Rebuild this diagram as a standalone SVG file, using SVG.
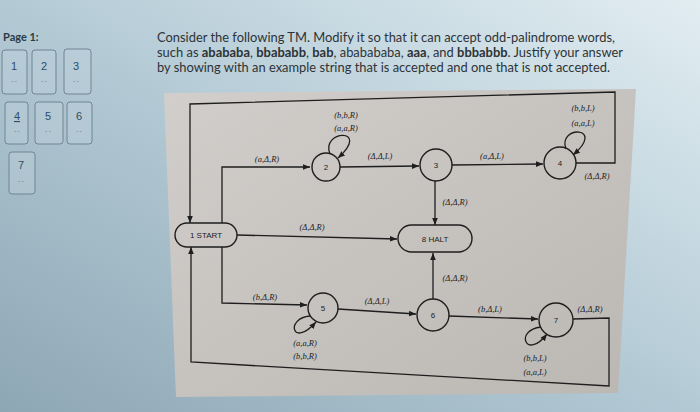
<svg xmlns="http://www.w3.org/2000/svg" width="700" height="412" viewBox="0 0 700 412">
<defs>
<linearGradient id="bg" x1="0" y1="1" x2="1" y2="0">
<stop offset="0" stop-color="#8ea7b4"/>
<stop offset="0.5" stop-color="#b3cad5"/>
<stop offset="1" stop-color="#e2edf2"/>
</linearGradient>
<linearGradient id="paper" x1="0" y1="0" x2="1" y2="1">
<stop offset="0" stop-color="#d1cecb"/>
<stop offset="1" stop-color="#bbb7b3"/>
</linearGradient>
<marker id="arr" viewBox="0 0 10 10" refX="10" refY="5" markerWidth="7" markerHeight="7" orient="auto" markerUnits="userSpaceOnUse">
<path d="M0,1 L10,5 L0,9 z" fill="#1e1e1e"/>
</marker>
<style>
.thumb{fill:#c4d5de;fill-opacity:0.35;stroke:#6e8593;stroke-width:1}
.tnum{font-family:"Liberation Sans",sans-serif;font-size:11px;fill:#2f4d68;text-anchor:middle}
.tdash{font-family:"Liberation Sans",sans-serif;font-size:6px;fill:#4d6070;text-anchor:middle}
.para{font-family:Lato,"Open Sans",sans-serif;font-size:13px;fill:#2e3336}
.edge{fill:none;stroke:#1e1e1e;stroke-width:1.3}
.node{fill:none;stroke:#1e1e1e;stroke-width:1.4}
.nlab{font-family:"Liberation Sans",sans-serif;font-size:8px;fill:#222;text-anchor:middle}
.elab{font-family:"Liberation Serif",serif;font-style:italic;font-size:8.5px;fill:#222;text-anchor:middle}
</style>
</defs>
<rect x="0" y="0" width="700" height="412" fill="url(#bg)"/>
<polygon points="164,93 636,89 618,393 176,397" fill="url(#paper)"/>

<g id="sidebar">
<text x="3" y="41" font-family="Lato,'Open Sans',sans-serif" font-size="11" font-weight="bold" fill="#2b3a44">Page 1:</text>
<rect class="thumb" x="2" y="50" width="25" height="44" rx="3"/>
<rect class="thumb" x="32" y="50" width="24" height="44" rx="3"/>
<rect class="thumb" x="64" y="49" width="27" height="45" rx="3"/>
<rect class="thumb" x="5" y="102" width="23" height="42" rx="3"/>
<rect class="thumb" x="35" y="102" width="28" height="42" rx="3"/>
<rect class="thumb" x="67" y="102" width="25" height="42" rx="3"/>
<rect class="thumb" x="9" y="152" width="26" height="42" rx="3"/>
<text class="tnum" x="14" y="70">1</text>
<text class="tnum" x="44" y="70">2</text>
<text class="tnum" x="76" y="70">3</text>
<text class="tnum" x="17" y="120" text-decoration="underline">4</text>
<text class="tnum" x="48" y="120">5</text>
<text class="tnum" x="79" y="120">6</text>
<text class="tnum" x="21" y="169">7</text>
<text class="tdash" x="14" y="83">- -</text>
<text class="tdash" x="44" y="83">- -</text>
<text class="tdash" x="76" y="83">- -</text>
<text class="tdash" x="17" y="133">- -</text>
<text class="tdash" x="48" y="133">- -</text>
<text class="tdash" x="79" y="133">- -</text>
<text class="tdash" x="21" y="183">- -</text>
</g>

<g id="question">
<text class="para" x="157" y="42" textLength="458" lengthAdjust="spacingAndGlyphs">Consider the following TM. Modify it so that it can accept odd-palindrome words,</text>
<text class="para" x="157" y="57" textLength="466" lengthAdjust="spacingAndGlyphs">such as <tspan font-weight="bold">abababa</tspan>, <tspan font-weight="bold">bbababb</tspan>, <tspan font-weight="bold">bab</tspan>, ababababa, <tspan font-weight="bold">aaa</tspan>, and <tspan font-weight="bold">bbbabbb</tspan>. Justify your answer</text>
<text class="para" x="157" y="72" textLength="453" lengthAdjust="spacingAndGlyphs">by showing with an example string that is accepted and one that is not accepted.</text>
</g>

<g id="connectors">
<path class="edge" d="M222 223 L222 167 L310 167" marker-end="url(#arr)"/>
<path class="edge" d="M222 247 L222 303 L307 305" marker-end="url(#arr)"/>
<path class="edge" d="M237 235 L397 239" marker-end="url(#arr)"/>
<path class="edge" d="M340 167 L419 166" marker-end="url(#arr)"/>
<path class="edge" d="M452 165 L543 164" marker-end="url(#arr)"/>
<path class="edge" d="M435 181 L435 225" marker-end="url(#arr)"/>
<path class="edge" d="M433 299 L433 253" marker-end="url(#arr)"/>
<path class="edge" d="M338 309 L416 314" marker-end="url(#arr)"/>
<path class="edge" d="M449 316 L538 319" marker-end="url(#arr)"/>
<path class="edge" d="M576 163 L615 163 L615 92 L190 104 L190 223" marker-end="url(#arr)"/>
<path class="edge" d="M573 319 L609 318 L609 386 L191 362 L191 247" marker-end="url(#arr)"/>
<path class="edge" d="M330 154 C320 130 372 127 338 158" marker-end="url(#arr)"/>
<path class="edge" d="M566 149 C557 125 607 126 573 155" marker-end="url(#arr)"/>
<path class="edge" d="M310 316 C285 318 292 349 316 322" marker-end="url(#arr)"/>
<path class="edge" d="M541 327 C514 330 526 361 547 334" marker-end="url(#arr)"/>
<text class="elab" x="346" y="118">(b,b,R)</text>
<text class="elab" x="346" y="131">(a,a,R)</text>
<text class="elab" x="267" y="162">(a,Δ,R)</text>
<text class="elab" x="380" y="159">(Δ,Δ,L)</text>
<text class="elab" x="492" y="159">(a,Δ,L)</text>
<text class="elab" x="583" y="111">(b,b,L)</text>
<text class="elab" x="583" y="126">(a,a,L)</text>
<text class="elab" x="597" y="179">(Δ,Δ,R)</text>
<text class="elab" x="455" y="205">(Δ,Δ,R)</text>
<text class="elab" x="312" y="230">(Δ,Δ,R)</text>
<text class="elab" x="455" y="281">(Δ,Δ,R)</text>
<text class="elab" x="265" y="300">(b,Δ,R)</text>
<text class="elab" x="377" y="304">(Δ,Δ,L)</text>
<text class="elab" x="305" y="346">(a,a,R)</text>
<text class="elab" x="305" y="359">(b,b,R)</text>
<text class="elab" x="490" y="312">(b,Δ,L)</text>
<text class="elab" x="535" y="361">(b,b,L)</text>
<text class="elab" x="535" y="375">(a,a,L)</text>
<text class="elab" x="590" y="312">(Δ,Δ,R)</text>
</g>

<g id="node-start">
<rect class="node" x="175" y="223" width="62" height="24" rx="12"/>
<text class="nlab" x="206" y="238">1 START</text>
</g>
<g id="node-2">
<circle class="node" cx="326" cy="167" r="14"/>
<text class="nlab" x="326" y="170">2</text>
</g>
<g id="node-3">
<circle class="node" cx="436" cy="165" r="16"/>
<text class="nlab" x="436" y="168">3</text>
</g>
<g id="node-4">
<circle class="node" cx="560" cy="163" r="16"/>
<text class="nlab" x="560" y="166">4</text>
</g>
<g id="node-halt">
<rect class="node" x="398" y="225" width="74" height="27" rx="13.5"/>
<text class="nlab" x="435" y="242" font-size="9">8 HALT</text>
</g>
<g id="node-5">
<circle class="node" cx="323" cy="308" r="15"/>
<text class="nlab" x="323" y="311">5</text>
</g>
<g id="node-6">
<circle class="node" cx="433" cy="315" r="16"/>
<text class="nlab" x="433" y="318">6</text>
</g>
<g id="node-7">
<circle class="node" cx="556" cy="320" r="17"/>
<text class="nlab" x="556" y="323">7</text>
</g>
</svg>
